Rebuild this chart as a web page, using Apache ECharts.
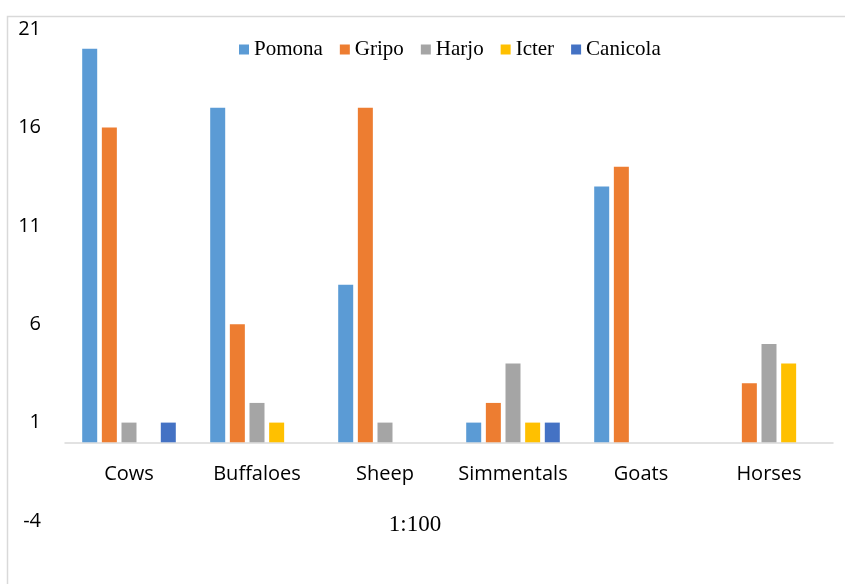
<!DOCTYPE html>
<html>
<head>
<meta charset="utf-8">
<script src="https://cdn.jsdelivr.net/npm/echarts@6/dist/echarts.min.js"></script>
<style>html,body{margin:0;padding:0;background:#fff;}#c{width:845px;height:584px;}</style>
</head>
<body>
<div id="c"></div>
<script>
const categories = ['Cows', 'Buffaloes', 'Sheep', 'Simmentals', 'Goats', 'Horses'];
const seriesNames = ['Pomona', 'Gripo', 'Harjo', 'Icter', 'Canicola'];
const pomona   = [20, 17, 8, 1, 13, 0];
const gripo    = [16, 6, 17, 2, 14, 3];
const harjo    = [1, 2, 1, 4, 0, 5];
const icter    = [0, 1, 0, 1, 0, 4];
const canicola = [1, 0, 0, 1, 0, 0];
const yTicks = [-4, 1, 6, 11, 16, 21];
const axisTitle = '1:100';

const colors = ['#5B9BD5', '#ED7D31', '#A5A5A5', '#FFC000', '#4472C4'];
const values = [pomona, gripo, harjo, icter, canicola];

const chart = echarts.init(document.getElementById('c'), null, {renderer: 'canvas'});
chart.setOption({
  animation: false,
  color: colors,
  graphic: [{
    type: 'rect', left: 5, top: 14, silent: true,
    shape: {width: 839, height: 600},
    style: {fill: 'none', stroke: '#D9D9D9', lineWidth: 1.5}
  }],
  legend: {
    left: 234, top: 34,
    icon: 'rect', itemWidth: 10, itemHeight: 10, itemGap: 17,
    textStyle: {fontFamily: 'Liberation Serif', fontSize: 21, color: '#000'},
    data: seriesNames
  },
  grid: {left: 65, right: 12, top: 29, bottom: 63, containLabel: false, outerBoundsMode: 'none'},
  xAxis: {
    type: 'category', data: categories,
    axisLine: {onZero: true, lineStyle: {color: '#D9D9D9', width: 1.5}},
    axisTick: {show: false},
    axisLabel: {fontFamily: 'Open Sans', fontSize: 20, color: '#000', margin: -57, interval: 0, hideOverlap: false},
    name: axisTitle, nameLocation: 'middle', nameGap: -8,
    nameTextStyle: {fontFamily: 'Liberation Serif', fontSize: 23, color: '#000', padding: [0, 68, 0, 0]}
  },
  yAxis: {
    type: 'value', min: yTicks[0], max: yTicks[yTicks.length - 1], interval: yTicks[1] - yTicks[0],
    axisLine: {show: false}, axisTick: {show: false}, splitLine: {show: false},
    axisLabel: {fontFamily: 'Open Sans', fontSize: 20, color: '#000', margin: 24}
  },
  series: seriesNames.map((n, i) => ({
    name: n, type: 'bar', data: values[i],
    barWidth: 15, barGap: '31%',
    itemStyle: {color: colors[i]}
  }))
});
</script>
</body>
</html>
